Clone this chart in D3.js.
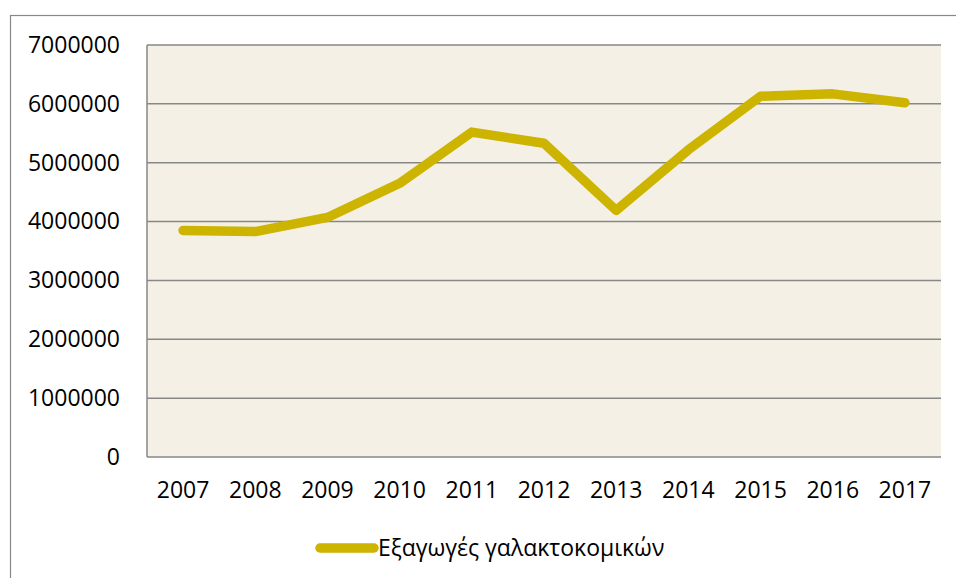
<!DOCTYPE html>
<html>
<head>
<meta charset="utf-8">
<style>
  body { margin: 0; background: #fff; }
  svg { display: block; }
</style>
</head>
<body>
<svg width="956" height="578" font-family="'Open Sans', sans-serif"></svg>
<script src="https://d3js.org/d3.v7.min.js"></script>
<script>

var years = ["2007", "2008", "2009", "2010", "2011", "2012", "2013", "2014", "2015", "2016", "2017"];
var exportsValues = [3850000, 3830000, 4070000, 4650000, 5520000, 5330000, 4190000, 5220000, 6130000, 6170000, 6020000];
var yTicks = [0, 1000000, 2000000, 3000000, 4000000, 5000000, 6000000, 7000000];
var seriesName = "Εξαγωγές γαλακτοκομικών";

var svg = d3.select("svg");

var margin = {left: 147, right: 941, top: 45, bottom: 457};
var fontSize = 23;

var x = d3.scaleBand()
    .domain(years)
    .range([margin.left, margin.right]);

var y = d3.scaleLinear()
    .domain([0, 7000000])
    .range([margin.bottom, margin.top]);

// outer chart frame (runs off the right and bottom edges)
svg.append("rect")
    .attr("x", 10.5)
    .attr("y", 15.5)
    .attr("width", 980)
    .attr("height", 600)
    .attr("fill", "#fff")
    .attr("stroke", "#888")
    .attr("stroke-width", 1.2);

// plot background
svg.append("rect")
    .attr("x", margin.left)
    .attr("y", margin.top)
    .attr("width", margin.right - margin.left)
    .attr("height", margin.bottom - margin.top)
    .attr("fill", "#f4f0e6");

// gridlines
svg.append("g")
  .selectAll("line")
  .data(yTicks)
  .enter().append("line")
    .attr("x1", margin.left)
    .attr("x2", margin.right)
    .attr("y1", function(d) { return y(d); })
    .attr("y2", function(d) { return y(d); })
    .attr("stroke", "#878787")
    .attr("stroke-width", 1.5);

// left axis line
svg.append("line")
    .attr("x1", margin.left)
    .attr("x2", margin.left)
    .attr("y1", margin.top)
    .attr("y2", margin.bottom)
    .attr("stroke", "#878787")
    .attr("stroke-width", 1.5);

// y labels
var yAxis = d3.axisLeft(y).tickValues(yTicks).tickSize(0).tickPadding(27).tickFormat(d3.format("d"));
var gy = svg.append("g")
    .attr("transform", "translate(" + margin.left + ",0)")
    .call(yAxis);
gy.select(".domain").remove();
gy.selectAll("text")
    .attr("font-family", "'Open Sans', sans-serif")
    .attr("font-size", fontSize)
    .attr("fill", "#000");

// x labels
var xAxis = d3.axisBottom(x).tickSize(0).tickPadding(25);
var gx = svg.append("g")
    .attr("transform", "translate(0," + margin.bottom + ")")
    .call(xAxis);
gx.select(".domain").remove();
gx.selectAll("text")
    .attr("font-family", "'Open Sans', sans-serif")
    .attr("font-size", fontSize)
    .attr("fill", "#000");

// series line
var line = d3.line()
    .x(function(d, i) { return x(years[i]) + x.bandwidth() / 2; })
    .y(function(d) { return y(d); });

svg.append("path")
    .datum(exportsValues)
    .attr("d", line)
    .attr("fill", "none")
    .attr("stroke", "#ccb400")
    .attr("stroke-width", 9.5)
    .attr("stroke-linecap", "round")
    .attr("stroke-linejoin", "round");

// legend
var legend = svg.append("g").attr("transform", "translate(317,548)");
legend.append("line")
    .attr("x1", 3)
    .attr("x2", 57)
    .attr("stroke", "#ccb400")
    .attr("stroke-width", 9.5)
    .attr("stroke-linecap", "round");
legend.append("text")
    .attr("x", 61)
    .attr("dy", "0.35em")
    .attr("font-size", fontSize)
    .attr("fill", "#000")
    .text(seriesName);

</script>
</body>
</html>
